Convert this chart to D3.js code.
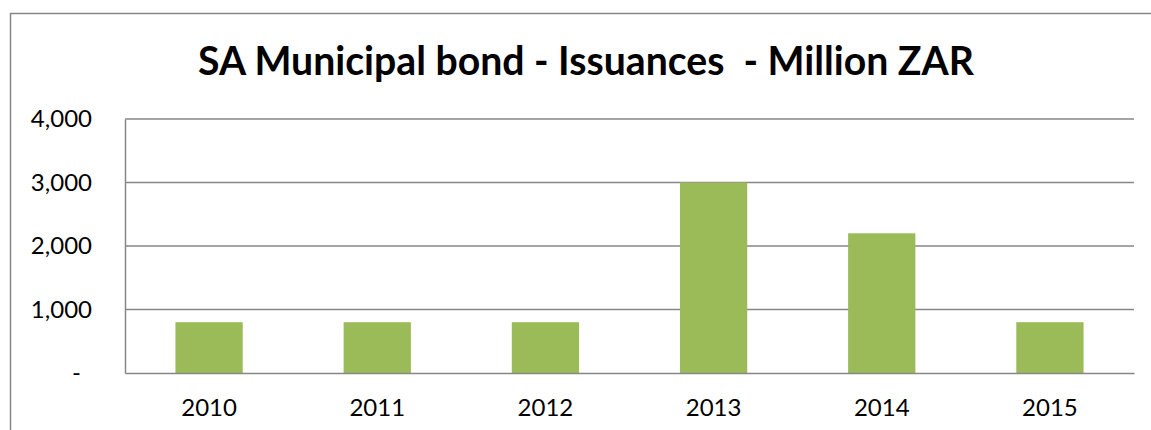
<!DOCTYPE html>
<html>
<head>
<meta charset="utf-8">
<script src="https://cdn.jsdelivr.net/npm/d3@7"></script>
<style>
  body { margin: 0; background: #fff; }
  svg { display: block; }
</style>
</head>
<body>
<div id="chart"></div>
<script>
const years = ['2010', '2011', '2012', '2013', '2014', '2015'];
const issuances = [800, 800, 800, 3000, 2200, 800];
const yTicks = [0, 1000, 2000, 3000, 4000];
const titleText = 'SA Municipal bond - Issuances\u00a0 - Million ZAR';

const W = 1151, H = 430;
const margin = {top: 119, right: 17, bottom: 57, left: 125};
const width = W - margin.left - margin.right;
const height = H - margin.top - margin.bottom;

const svg = d3.select('#chart')
    .append('svg')
    .attr('width', W)
    .attr('height', H);

// outer chart border (runs off the right and bottom)
svg.append('rect')
    .attr('x', 10.5)
    .attr('y', 13.5)
    .attr('width', W + 20)
    .attr('height', H + 20)
    .attr('fill', 'none')
    .attr('stroke', '#878787')
    .attr('stroke-width', 1.5);

// title
const title = svg.append('text')
    .attr('x', 586)
    .attr('y', 75)
    .attr('text-anchor', 'middle')
    .style('font-family', 'Lato, "Open Sans", sans-serif')
    .style('font-weight', 'bold')
    .style('font-size', '37px')
    .style('fill', '#000')
    .text(titleText);
const tw = title.node().getComputedTextLength();
title.style('font-size', (37 * 776 / tw) + 'px');

const g = svg.append('g')
    .attr('transform', `translate(${margin.left},${margin.top})`);

const x = d3.scaleBand()
    .domain(years)
    .range([0, width])
    .paddingInner(0.6)
    .paddingOuter(0.3);

const y = d3.scaleLinear()
    .domain([0, 4000])
    .range([height, 0]);

// gridlines
g.append('g')
    .selectAll('line')
    .data(yTicks.filter(d => d > 0))
    .enter()
    .append('line')
    .attr('x1', 0)
    .attr('x2', width)
    .attr('y1', d => y(d))
    .attr('y2', d => y(d))
    .attr('stroke', '#878787')
    .attr('stroke-width', 1.5);

// bars
g.selectAll('.bar')
    .data(issuances)
    .enter()
    .append('rect')
    .attr('class', 'bar')
    .attr('x', (d, i) => x(years[i]))
    .attr('y', d => y(d))
    .attr('width', x.bandwidth())
    .attr('height', d => height - y(d))
    .attr('fill', '#9BBB59');

// y axis
const yAxis = d3.axisLeft(y)
    .tickValues(yTicks)
    .tickSize(0)
    .tickPadding(33)
    .tickFormat(d => d === 0 ? '-' : d3.format(',')(d));

const ya = g.append('g').call(yAxis);
ya.select('.domain').attr('stroke', '#878787').attr('stroke-width', 1.5);
ya.selectAll('text')
    .style('font-family', 'Lato, "Open Sans", sans-serif')
    .style('font-size', '24px')
    .attr('fill', '#000');
ya.selectAll('.tick')
    .filter(d => d === 0)
    .select('text')
    .attr('dx', -11);

// x axis
const xAxis = d3.axisBottom(x)
    .tickSize(0)
    .tickPadding(26);

const xa = g.append('g')
    .attr('transform', `translate(0,${height})`)
    .call(xAxis);
xa.select('.domain').attr('stroke', '#878787').attr('stroke-width', 1.5);
xa.selectAll('text')
    .style('font-family', 'Lato, "Open Sans", sans-serif')
    .style('font-size', '24px')
    .attr('fill', '#000');
</script>
</body>
</html>
